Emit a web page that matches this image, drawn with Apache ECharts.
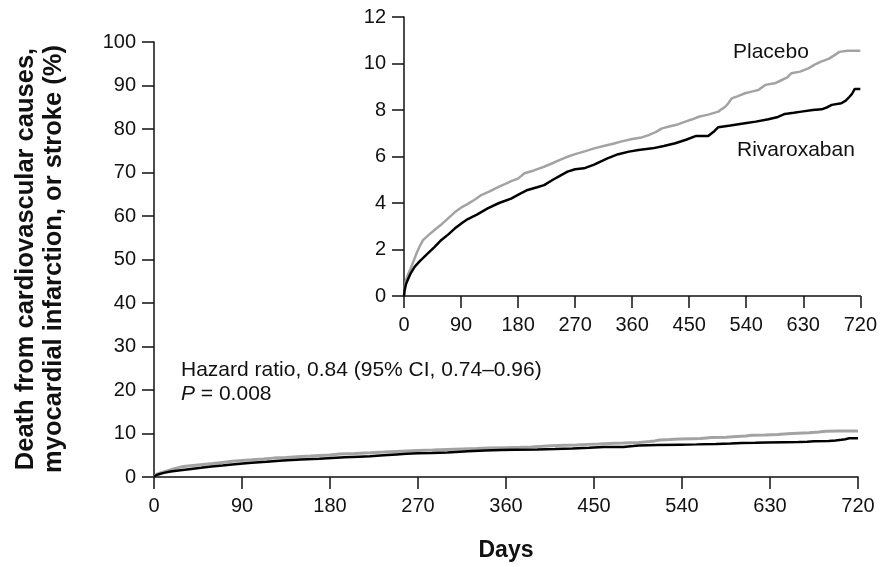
<!DOCTYPE html>
<html>
<head>
<meta charset="utf-8">
<script src="https://cdn.jsdelivr.net/npm/echarts@6/dist/echarts.min.js"></script>
<style>
html,body{margin:0;padding:0;background:#fff;}
#chart{width:880px;height:567px;}
</style>
</head>
<body>
<div id="chart"></div>
<script>
// ---- Data ----
var xTicks = [0, 90, 180, 270, 360, 450, 540, 630, 720];
var mainYMax = 100, mainYInterval = 10;
var insetYMax = 12, insetYInterval = 2;

var placeboDays = [0,1,3,6,10,15,20,25,30,40,50,60,70,80,90,100,112,122,135,150,160,170,180,190,205,221,235,248,258,270,285,300,315,330,342,360,375,386,397,407,420,432,444,455,465,480,496,502,507,512,517,527,538,550,559,565,570,585,596,605,611,625,638,648,658,670,680,687,700,720];
var placeboVals = [0,0.35,0.65,0.9,1.15,1.5,1.85,2.15,2.4,2.65,2.88,3.1,3.35,3.6,3.8,3.95,4.15,4.34,4.5,4.7,4.82,4.95,5.05,5.28,5.4,5.56,5.72,5.88,5.99,6.1,6.22,6.35,6.45,6.55,6.64,6.75,6.82,6.92,7.05,7.21,7.3,7.38,7.5,7.6,7.71,7.8,7.93,8.05,8.14,8.3,8.5,8.6,8.72,8.8,8.86,8.98,9.08,9.15,9.29,9.4,9.58,9.65,9.79,9.95,10.08,10.2,10.37,10.5,10.55,10.55];

var rivaDays = [0,1,3,6,10,17,25,38,48,59,70,80,91,100,115,132,150,169,182,195,210,221,235,248,258,270,284,300,321,338,355,370,392,410,428,445,460,480,490,496,515,538,555,575,590,601,615,627,645,659,668,675,690,697,703,707,711,720];
var rivaVals = [0,0.25,0.5,0.7,0.95,1.26,1.5,1.84,2.1,2.41,2.65,2.9,3.13,3.3,3.5,3.77,4.0,4.19,4.38,4.56,4.68,4.77,5.0,5.2,5.35,5.45,5.49,5.65,5.92,6.1,6.21,6.28,6.35,6.45,6.57,6.72,6.88,6.88,7.1,7.26,7.33,7.43,7.5,7.6,7.7,7.83,7.88,7.93,8.0,8.03,8.12,8.22,8.29,8.4,8.57,8.7,8.9,8.9];

var placeboName = 'Placebo';
var rivaName = 'Rivaroxaban';
var hazardText = 'Hazard ratio, 0.84 (95% CI, 0.74\u20130.96)';
var pText = ' = 0.008';
var xTitle = 'Days';
var yTitle = 'Death from cardiovascular causes,\nmyocardial infarction, or stroke (%)';

function pairs(d, v){ return d.map(function(x,i){ return [x, v[i]]; }); }

var FONT = '"Liberation Sans", Arial, Helvetica, sans-serif';
var INK = '#111';
var axisLine = {show:true, lineStyle:{color:INK, width:1.5}};
var axisTick = {show:true, inside:false, length:12, lineStyle:{color:INK, width:1.5}};
var yLabel = {color:INK, fontSize:20, fontFamily:FONT, margin:18};
var xLabel = {color:INK, fontSize:20, fontFamily:FONT, margin:19};

var chart = echarts.init(document.getElementById('chart'), null, {renderer:'canvas'});
chart.setOption({
  animation:false,
  backgroundColor:'#fff',
  grid:[
    {left:154, right:22, top:42, bottom:90},
    {left:404, right:17.5, top:17, bottom:271}
  ],
  xAxis:[
    {type:'value', gridIndex:0, min:0, max:720, interval:90,
     axisLine:axisLine, axisTick:axisTick, axisLabel:xLabel, splitLine:{show:false},
     name:xTitle, nameLocation:'middle', nameGap:62,
     nameTextStyle:{fontSize:23, fontWeight:'bold', color:INK, fontFamily:FONT}},
    {type:'value', gridIndex:1, min:0, max:720, interval:90,
     axisLine:axisLine, axisTick:axisTick, axisLabel:xLabel, splitLine:{show:false}}
  ],
  yAxis:[
    {type:'value', gridIndex:0, min:0, max:mainYMax, interval:mainYInterval,
     axisLine:axisLine, axisTick:axisTick, axisLabel:yLabel, splitLine:{show:false}},
    {type:'value', gridIndex:1, min:0, max:insetYMax, interval:insetYInterval,
     axisLine:axisLine, axisTick:axisTick, axisLabel:yLabel, splitLine:{show:false}}
  ],
  series:[
    {type:'line', name:placeboName+' (main)', xAxisIndex:0, yAxisIndex:0, data:pairs(placeboDays, placeboVals),
     showSymbol:false, lineStyle:{color:'#a3a3a3', width:3}, z:2},
    {type:'line', name:rivaName+' (main)', xAxisIndex:0, yAxisIndex:0, data:pairs(rivaDays, rivaVals),
     showSymbol:false, lineStyle:{color:'#000', width:2.5}, z:3},
    {type:'line', name:placeboName, xAxisIndex:1, yAxisIndex:1, data:pairs(placeboDays, placeboVals),
     showSymbol:false, lineStyle:{color:'#a3a3a3', width:2.5}, z:2},
    {type:'line', name:rivaName, xAxisIndex:1, yAxisIndex:1, data:pairs(rivaDays, rivaVals),
     showSymbol:false, lineStyle:{color:'#000', width:2.5}, z:3}
  ],
  graphic:[
    {type:'text', left:733, top:42, style:{text:placeboName, fontSize:21, fontFamily:FONT, fill:INK}},
    {type:'text', left:737, top:140, style:{text:rivaName, fontSize:21, fontFamily:FONT, fill:INK}},
    {type:'text', left:181, top:360, style:{text:hazardText, fontSize:21, fontFamily:FONT, fill:INK}},
    {type:'text', left:181, top:384, style:{
      text:'{i|P}' + pText, fontSize:21, fontFamily:FONT, fill:INK,
      rich:{i:{fontStyle:'italic', fontSize:21, fontFamily:FONT, fill:INK}}}},
    {type:'text', x:40, y:259, rotation:Math.PI/2,
     style:{text:yTitle, fontSize:25.5, fontWeight:'bold', fontFamily:FONT, fill:INK,
            align:'center', verticalAlign:'middle', lineHeight:28}}
  ]
});
</script>
</body>
</html>
